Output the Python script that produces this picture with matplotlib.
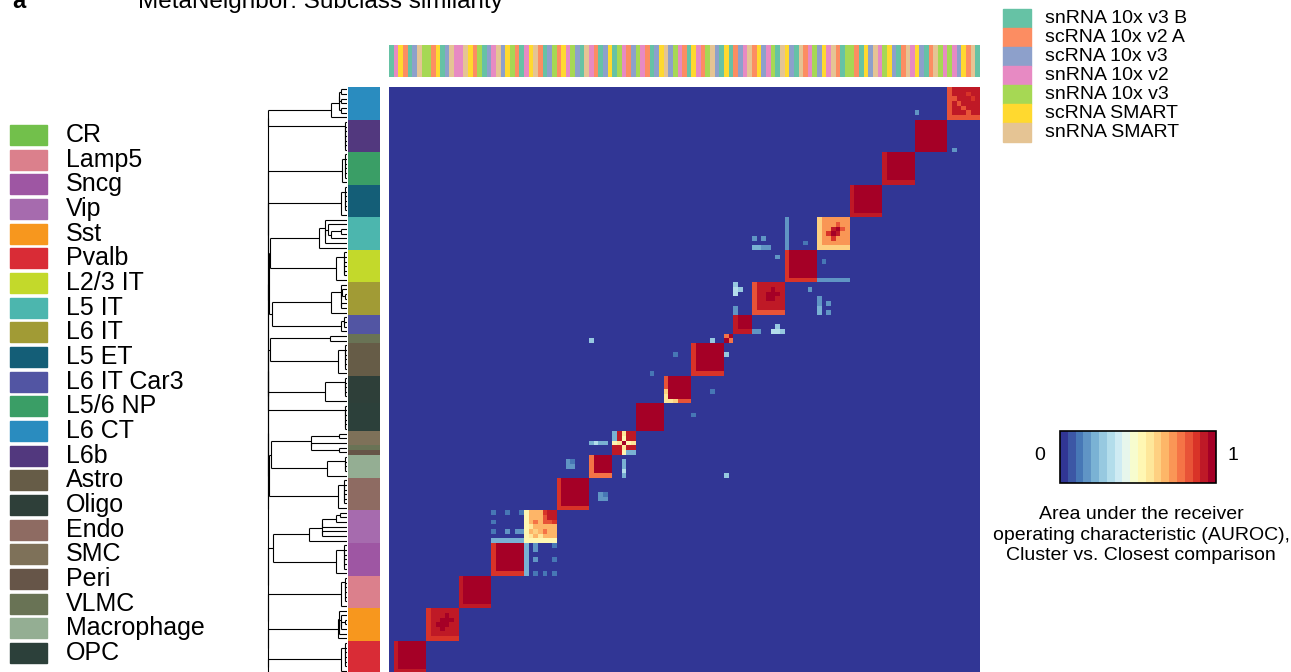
import numpy as np
import matplotlib
matplotlib.use("Agg")
import matplotlib.pyplot as plt
from matplotlib.colors import ListedColormap, Normalize
from matplotlib.patches import Rectangle
from matplotlib.collections import LineCollection
import matplotlib.cm as cm

plt.rcParams['font.family'] = ['Liberation Sans', 'DejaVu Sans']

W, H = 1291, 672

# subclass legend, top to bottom
legend_names = ["CR", "Lamp5", "Sncg", "Vip", "Sst", "Pvalb", "L2/3 IT", "L5 IT", "L6 IT",
                "L5 ET", "L6 IT Car3", "L5/6 NP", "L6 CT", "L6b", "Astro", "Oligo", "Endo",
                "SMC", "Peri", "VLMC", "Macrophage", "OPC"]
legend_colors = ["#72C04B", "#DB808C", "#9E56A3", "#A66BAE", "#F7971E", "#D92C36", "#C3D92B",
                 "#4CB6AE", "#A19B35", "#145E77", "#5255A3", "#3A9E66", "#2A8CBF", "#52387E",
                 "#665C47", "#2E3F39", "#8E6B62", "#7E7159", "#665548", "#697355", "#94AE93",
                 "#2C403A"]

dataset_names = ["snRNA 10x v3 B", "scRNA 10x v2 A", "scRNA 10x v3", "snRNA 10x v2",
                 "snRNA 10x v3", "scRNA SMART", "snRNA SMART"]
dataset_colors = ["#66C2A5", "#FC8D62", "#8DA0CB", "#E78AC3", "#A6D854", "#FFD92F", "#E5C494"]

# heatmap order: columns left->right == rows bottom->top
row_subclass = [("CR", 1), ("Pvalb", 7), ("Sst", 7), ("Lamp5", 7), ("Sncg", 7), ("Vip", 7),
                ("Endo", 7), ("Macrophage", 5), ("Peri", 1), ("VLMC", 1), ("SMC", 3),
                ("OPC", 6), ("Oligo", 6), ("Astro", 7), ("VLMC", 2), ("L6 IT Car3", 4),
                ("L6 IT", 7), ("L2/3 IT", 7), ("L5 IT", 7), ("L5 ET", 7), ("L5/6 NP", 7),
                ("L6b", 7), ("L6 CT", 7)]

# dataset index of every column
column_dataset = [0,
                  3, 5, 1, 0, 2, 6, 4,
                  4, 1, 5, 0, 2, 6, 3,
                  3, 6, 5, 1, 4, 0, 2,
                  3, 6, 2, 5, 4, 1, 0,
                  3, 5, 6, 1, 0, 2, 4,
                  1, 5, 3, 4, 2, 0, 6,
                  3, 1, 0, 2, 5,
                  0, 4, 3, 1, 2,
                  4, 3, 1, 0, 2, 5,
                  6, 2, 4, 3, 1, 0,
                  5, 3, 1, 4, 6, 2, 0,
                  5, 0,
                  1, 2, 3, 6,
                  1, 5, 2, 3, 4, 0, 6,
                  5, 2, 0, 6, 1, 3, 4,
                  2, 5, 3, 6, 1, 0, 4,
                  4, 1, 0, 5, 2, 6, 3,
                  4, 5, 2, 0, 1, 6, 3,
                  5, 2, 0, 1, 6, 4, 3,
                  4, 3, 2, 5, 1, 6, 0]

# diagonal blocks: size, AUROC inside, AUROC on the first dataset's row/column
block_size = [1, 7, 7, 7, 7, 7, 7, 5, 5, 6, 6, 7, 2, 4, 7, 7, 7, 7, 7, 7, 7]
block_auroc = [0.97, 0.97, 0.90, 0.97, 0.96, 0.68, 0.96, 0.97, 0.90, 0.98, 0.97,
               0.97, 0.97, 0.96, 0.92, 0.96, 0.72, 0.97, 0.97, 0.97, 0.92]
block_edge = [0.97, 0.93, 0.88, 0.93, 0.86, 0.52, 0.88, 0.75, 0.90, 0.98, 0.82,
              0.88, 0.97, 0.93, 0.80, 0.86, 0.64, 0.93, 0.94, 0.97, 0.80]

# single cells (row, col, AUROC); mirrored across the diagonal
cell_auroc = [
    # within blocks
    (11, 11, 0.97), (12, 11, 0.97), (12, 12, 0.97), (11, 10, 0.96), (13, 12, 0.96),
    (33, 33, 0.80), (34, 33, 0.84), (34, 34, 0.90), (35, 33, 0.88), (35, 34, 0.91),
    (35, 35, 0.93), (30, 30, 0.56), (31, 31, 0.62), (32, 30, 0.58), (33, 31, 0.76),
    (50, 48, 0.52), (50, 49, 0.56), (50, 50, 0.97), (50, 51, 0.52), (50, 52, 0.56),
    (52, 48, 0.20), (51, 48, 0.24),
    (59, 59, 0.58), (60, 59, 0.55), (61, 59, 0.60),
    (73, 72, 0.78),
    (81, 81, 0.97), (82, 82, 0.97), (82, 81, 0.97), (83, 82, 0.96),
    (95, 95, 0.95), (96, 96, 0.95), (96, 95, 0.93), (95, 94, 0.88), (97, 96, 0.82),
    (123, 122, 0.82), (124, 121, 0.80), (125, 124, 0.85),
    # between blocks
    (29, 22, 0.24), (29, 23, 0.24), (29, 24, 0.24), (29, 25, 0.24), (29, 26, 0.24),
    (29, 27, 0.24), (29, 28, 0.24),
    (31, 22, 0.13), (31, 25, 0.15), (31, 27, 0.18), (31, 28, 0.18), (33, 22, 0.13),
    (35, 22, 0.13), (35, 25, 0.13), (35, 28, 0.13),
    (45, 38, 0.15), (45, 39, 0.15), (46, 38, 0.15), (46, 39, 0.13),
    (50, 43, 0.24), (50, 44, 0.30), (50, 45, 0.20), (50, 46, 0.24),
    (65, 56, 0.10), (69, 61, 0.10), (72, 43, 0.28), (72, 69, 0.28),
    (78, 74, 0.18), (79, 74, 0.18), (82, 74, 0.30), (83, 74, 0.32), (84, 74, 0.28),
    (83, 75, 0.28),
    (92, 78, 0.20), (92, 79, 0.20), (92, 80, 0.18), (92, 81, 0.18), (94, 78, 0.16),
    (94, 80, 0.16), (90, 83, 0.16), (93, 89, 0.12),
    (92, 85, 0.18), (93, 85, 0.18), (94, 85, 0.18), (95, 85, 0.18), (96, 85, 0.18),
    (97, 85, 0.18), (98, 85, 0.18),
    (121, 113, 0.18),
]

# ---- build matrix
n = sum(block_size)
auroc = np.zeros((n, n))
start = 0
for size, inner, edge in zip(block_size, block_auroc, block_edge):
    sl = slice(start, start + size)
    auroc[sl, sl] = inner
    auroc[start, sl] = edge
    auroc[sl, start] = edge
    start += size
for r, c, v in cell_auroc:
    auroc[r, c] = v
    auroc[c, r] = v

sub_color = dict(zip(legend_names, legend_colors))
row_colors = []
for name, count in row_subclass:
    row_colors += [sub_color[name]] * count

fig = plt.figure(figsize=(W / 100, H / 100), dpi=100)


def px(x, y, w, h):
    return [x / W, 1 - (y + h) / H, w / W, h / H]


cmap = plt.get_cmap('RdYlBu_r', 20)

ax_hm = fig.add_axes(px(389, 87, 591, 591))
ax_hm.imshow(auroc, cmap=cmap, vmin=0, vmax=1, origin='lower', aspect='auto',
             interpolation='nearest')
ax_hm.axis('off')

ax_top = fig.add_axes(px(389, 45, 591, 32))
ax_top.imshow(np.array(column_dataset)[None, :], cmap=ListedColormap(dataset_colors),
              vmin=-0.5, vmax=6.5, aspect='auto', interpolation='nearest')
ax_top.axis('off')

ax_row = fig.add_axes(px(348, 87, 32, 591))
ax_row.imshow(np.arange(n)[:, None], cmap=ListedColormap(row_colors), vmin=-0.5,
              vmax=n - 0.5, origin='lower', aspect='auto', interpolation='nearest')
ax_row.axis('off')

# dendrogram: average linkage restricted to neighbouring clusters (keeps row order)
dist = 1 - auroc
clusters = [[i] for i in range(n)]
ypos = [float(i) for i in range(n)]
height = [0.0] * n
segs = []
while len(clusters) > 1:
    d_adj = [dist[np.ix_(clusters[k], clusters[k + 1])].mean() for k in range(len(clusters) - 1)]
    k = int(np.argmin(d_adj))
    d = max(d_adj[k], height[k], height[k + 1])
    segs.append([(height[k], ypos[k]), (d, ypos[k])])
    segs.append([(height[k + 1], ypos[k + 1]), (d, ypos[k + 1])])
    segs.append([(d, ypos[k]), (d, ypos[k + 1])])
    clusters[k] = clusters[k] + clusters.pop(k + 1)
    ypos[k] = (ypos[k] + ypos.pop(k + 1)) / 2
    height[k] = d
    height.pop(k + 1)

ax_den = fig.add_axes(px(265, 87, 82, 591))
ax_den.add_collection(LineCollection(segs, colors='black', linewidths=0.8))
ax_den.set_xlim(1.04, 0)
ax_den.set_ylim(-0.5, n - 0.5)
ax_den.axis('off')

# left legend
for i, (name, col) in enumerate(zip(legend_names, legend_colors)):
    y = 125 + i * 24.67
    fig.add_artist(Rectangle((10 / W, 1 - (y + 20) / H), 37 / W, 20 / H,
                             transform=fig.transFigure, color=col))
    fig.text(66 / W, 1 - (y + 10) / H, name, fontsize=18, va='center', ha='left')

# dataset legend
for i, (name, col) in enumerate(zip(dataset_names, dataset_colors)):
    y = 9 + i * 19
    fig.add_artist(Rectangle((1003 / W, 1 - (y + 19) / H), 28 / W, 19 / H,
                             transform=fig.transFigure, color=col))
    fig.text(1045 / W, 1 - (y + 9.5) / H, name, fontsize=14, va='center', ha='left')

# colour bar
cax = fig.add_axes(px(1060, 431, 156, 52))
cb = fig.colorbar(cm.ScalarMappable(norm=Normalize(0, 1), cmap=cmap), cax=cax,
                  orientation='horizontal')
cb.set_ticks([])
cb.outline.set_linewidth(1.2)
fig.text(1040 / W, 1 - 455 / H, "0", fontsize=14, ha='center', va='center')
fig.text(1233 / W, 1 - 455 / H, "1", fontsize=14, ha='center', va='center')
fig.text(1141 / W, 1 - 535 / H,
         "Area under the receiver\noperating characteristic (AUROC),\nCluster vs. Closest comparison",
         fontsize=14, ha='center', va='center', linespacing=1.25)

# titles (cut at the top edge, as in the source figure)
fig.text(12 / W, 1 - 8 / H, "a", fontsize=17, fontweight='bold', va='baseline')
fig.text(138 / W, 1 - 8 / H, "MetaNeighbor: Subclass similarity", fontsize=17.5, va='baseline')

fig.savefig("out.png", dpi=100)
